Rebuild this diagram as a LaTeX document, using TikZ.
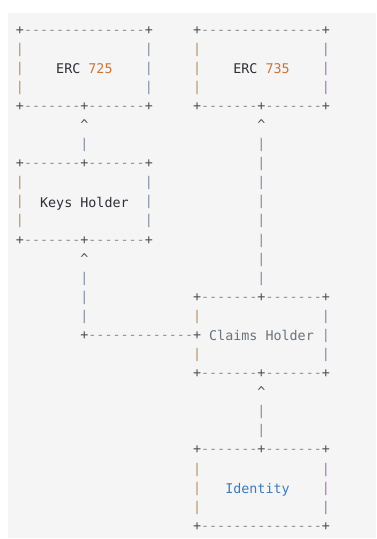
\documentclass[tikz,border=0pt]{standalone}
\usepackage{fontspec}
\newfontfamily\asciifont{DejaVu Sans Mono}[Ligatures=TeXOff]
\definecolor{bgcol}{HTML}{F5F5F5}
\definecolor{pluscol}{HTML}{505050}
\definecolor{dashcol}{HTML}{8E8E8E}
\definecolor{pipeA}{HTML}{B39063}
\definecolor{pipeB}{HTML}{7F8DA3}
\definecolor{pipeC}{HTML}{9C78A8}
\definecolor{darktext}{HTML}{2E2E36}
\definecolor{numcol}{HTML}{C8743A}
\definecolor{claimcol}{HTML}{6A737D}
\definecolor{identcol}{HTML}{3B7BBD}
\tikzset{
  ch/.style={anchor=mid west, inner sep=0pt, outer sep=0pt,
    font=\asciifont\fontsize{13.371}{19}\selectfont},
  lbl/.style={yshift=-1.2pt},
}
% glyph run: colour, column, row, text, name
\newcommand\gl[5]{\node[ch,text=#1,name=#5] at ({15.975+(#2)*8.05},{-32-(#3)*19.08}) {#4};}
% label run (letters sit slightly lower): colour, column, row, text, name
\newcommand\lb[5]{\node[ch,lbl,text=#1,name=#5] at ({15.975+(#2)*8.05},{-32-(#3)*19.08}) {#4};}
% box edge with middle plus: column, row, name
\newcommand\midedge[3]{%
  \gl{pluscol}{#1}{#2}{+}{#3p1}
  \gl{dashcol}{#1+1}{#2}{-------}{#3d1}
  \gl{pluscol}{#1+8}{#2}{+}{#3p2}
  \gl{dashcol}{#1+9}{#2}{-------}{#3d2}
  \gl{pluscol}{#1+16}{#2}{+}{#3p3}}
% plain edge: column, row, dashes, last column, name
\newcommand\plainedge[5]{%
  \gl{pluscol}{#1}{#2}{+}{#5p1}
  \gl{dashcol}{#1+1}{#2}{#3}{#5d1}
  \gl{pluscol}{#4}{#2}{+}{#5p2}}
\newcommand\pp[4]{\gl{#1}{#2}{#3}{|}{#4}}
\newcommand\caret[3]{\gl{pluscol}{#1}{#2}{\textasciicircum}{#3}}
\begin{document}
\begin{tikzpicture}[x=1pt,y=1pt]
\useasboundingbox (0,0) rectangle (376,-539);
\fill[bgcol] (8,-13) rectangle (376,-538);
% ERC boxes
\plainedge{0}{0}{---------------}{16}{ercAtop}
\plainedge{22}{0}{---------------}{38}{ercBtop}
\foreach \r in {1,2,3}{
  \pp{pipeA}{0}{\r}{ercAl\r}
  \pp{pipeB}{16}{\r}{ercAr\r}
  \pp{pipeA}{22}{\r}{ercBl\r}
  \pp{pipeC}{38}{\r}{ercBr\r}
}
\lb{darktext}{5}{2}{ERC}{ercAtxt}
\lb{numcol}{9}{2}{725}{ercAnum}
\lb{darktext}{27}{2}{ERC}{ercBtxt}
\lb{numcol}{31}{2}{735}{ercBnum}
\midedge{0}{4}{ercAbot}
\midedge{22}{4}{ercBbot}
% connectors below ERC boxes
\caret{8}{5}{upA}
\caret{30}{5}{upB}
\pp{pipeB}{8}{6}{lnA6}
\foreach \r in {6,...,13}{\pp{pipeB}{30}{\r}{lnB\r}}
% Keys Holder box
\midedge{0}{7}{keystop}
\foreach \r in {8,9,10}{
  \pp{pipeA}{0}{\r}{keysl\r}
  \pp{pipeB}{16}{\r}{keysr\r}
}
\lb{darktext}{3}{9}{Keys}{keystxtA}
\lb{darktext}{8}{9}{Holder}{keystxtB}
\midedge{0}{11}{keysbot}
\caret{8}{12}{upK}
\foreach \r in {13,14,15}{\pp{pipeB}{8}{\r}{lnK\r}}
\plainedge{8}{16}{-------------}{22}{lnKh}
% Claims Holder box
\midedge{22}{14}{claimtop}
\pp{pipeA}{22}{15}{claiml15}
\pp{pipeC}{38}{15}{claimr15}
\lb{claimcol}{24}{16}{Claims}{claimtxtA}
\lb{claimcol}{31}{16}{Holder}{claimtxtB}
\pp{pipeC}{38}{16}{claimr16}
\pp{pipeA}{22}{17}{claiml17}
\pp{pipeC}{38}{17}{claimr17}
\midedge{22}{18}{claimbot}
\caret{30}{19}{upC}
\pp{pipeB}{30}{20}{lnC20}
\pp{pipeB}{30}{21}{lnC21}
% Identity box
\midedge{22}{22}{idtop}
\foreach \r in {23,24,25}{
  \pp{pipeA}{22}{\r}{idl\r}
  \pp{pipeC}{38}{\r}{idr\r}
}
\lb{identcol}{26}{24}{Identity}{idtxt}
\plainedge{22}{26}{---------------}{38}{idbot}
\end{tikzpicture}
\end{document}
